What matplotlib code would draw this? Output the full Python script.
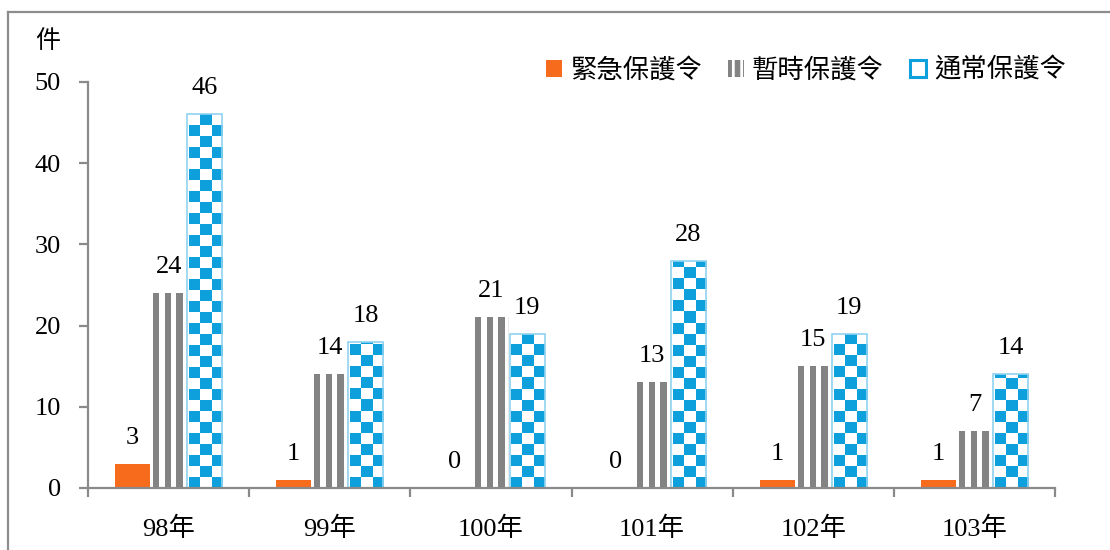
import math
import numpy as np
import matplotlib
matplotlib.use('Agg')
from matplotlib import pyplot as plt
from matplotlib.patches import Patch

plt.rcParams['font.family'] = ['Liberation Serif', 'Noto Sans CJK TC']
plt.rcParams['hatch.linewidth'] = 4

years = ['98年', '99年', '100年', '101年', '102年', '103年']
series_names = ['緊急保護令', '暫時保護令', '通常保護令']
emergency = [3, 1, 0, 0, 1, 1]
temporary = [24, 14, 21, 13, 15, 7]
ordinary = [46, 18, 19, 28, 19, 14]

orange = '#f66b1c'
grey = '#838383'
blue = '#0ea0dc'
light_blue = '#8fd3f0'

fig = plt.figure(figsize=(11.10, 5.50), dpi=100)
ax = fig.add_axes([88 / 1110, 1 - 488 / 550, (1055 - 88) / 1110, (488 - 82) / 550])

x = np.arange(len(years))
w = 0.217
off = 0.224

b1 = ax.bar(x - off, emergency, w, color=orange, zorder=3)
b2 = ax.bar(x, temporary, w, color='white', edgecolor='#e6e6e6', linewidth=0.6, zorder=2)
b3 = ax.bar(x + off, ordinary, w, facecolor='none', edgecolor=light_blue, linewidth=1.2, zorder=4)

# vertical stripes for the grey bars
stripe_cols = [0] * 2 + [1] * 6 + [0] * 5 + [1] * 6 + [0] * 5 + [1] * 6 + [0] * 3
stripe = np.ones((1, len(stripe_cols), 3))
for i, c in enumerate(stripe_cols):
    if c:
        stripe[0, i] = matplotlib.colors.to_rgb(grey)
for r in b2:
    h = r.get_height()
    if h <= 0:
        continue
    im = ax.imshow(stripe, extent=(r.get_x(), r.get_x() + r.get_width(), 0, h),
                   aspect='auto', interpolation='nearest', zorder=2.5)
    im.set_clip_path(r)

# checkerboard for the blue bars
sqx = 11 / 161.2
sqy = 11 * 50 / 406
blue_rgb = matplotlib.colors.to_rgb(blue)
for r in b3:
    h = r.get_height()
    ncols = math.ceil(r.get_width() / sqx)
    nrows = math.ceil(h / sqy)
    img = np.ones((nrows, ncols, 3))
    for i in range(nrows):
        for j in range(ncols):
            if (i + j) % 2 == 0:
                img[nrows - 1 - i, j] = blue_rgb
    x0 = r.get_x() + 0.012
    im = ax.imshow(img, extent=(x0, x0 + ncols * sqx, 0, nrows * sqy),
                   aspect='auto', interpolation='nearest', zorder=3.5)
    im.set_clip_path(r)

for bars in (b1, b2, b3):
    for r in bars:
        ax.annotate(str(int(r.get_height())),
                    (r.get_x() + r.get_width() / 2, r.get_height()),
                    xytext=(0, 14.5), textcoords='offset points',
                    ha='center', va='baseline', fontsize=19, color='black', zorder=6)

ax.set_xlim(-0.5, 5.5)
ax.set_ylim(0, 50)
ax.set_yticks(range(0, 51, 10))
ax.set_xticks(np.arange(-0.5, 6, 1))
ax.set_xticklabels([])
ax.set_xticks(x, minor=True)
ax.set_xticklabels(years, minor=True)

spine_c = '#8a8a8a'
for s in ['top', 'right']:
    ax.spines[s].set_visible(False)
for s in ['left', 'bottom']:
    ax.spines[s].set_color(spine_c)
    ax.spines[s].set_linewidth(1.6)
    ax.spines[s].set_zorder(5)
ax.tick_params(axis='both', which='major', direction='out', length=6.5, width=1.6,
               color=spine_c, labelsize=19, labelcolor='black')
ax.tick_params(axis='y', pad=13)
ax.tick_params(axis='x', which='minor', length=0, pad=21, labelsize=19)

fig.text(48 / 1110, 1 - 41 / 550, '件', fontsize=18, ha='center', va='center',
         family=['Noto Sans CJK TC'])

handles = [
    Patch(facecolor=orange, edgecolor='none'),
    Patch(facecolor='white', edgecolor=grey, hatch='||', linewidth=0),
    Patch(facecolor='white', edgecolor=blue, linewidth=2.2),
]
ax.legend(handles, series_names, ncol=3, frameon=False, loc='center right',
          bbox_to_anchor=(1066 / 1110, 1 - 70 / 550), bbox_transform=fig.transFigure,
          prop={'family': ['Noto Sans CJK TC'], 'size': 19},
          handlelength=0.6, handleheight=0.6, handletextpad=0.3,
          columnspacing=1.0, borderpad=0, borderaxespad=0)

# outer frame lines
fig.add_artist(plt.Line2D([8 / 1110, 8 / 1110], [0, 1 - 12 / 550], color='#8c8c8c',
                          linewidth=1.6, transform=fig.transFigure))
fig.add_artist(plt.Line2D([8 / 1110, 1], [1 - 12 / 550, 1 - 12 / 550], color='#8c8c8c',
                          linewidth=1.6, transform=fig.transFigure))

fig.savefig('out.png', dpi=100)
